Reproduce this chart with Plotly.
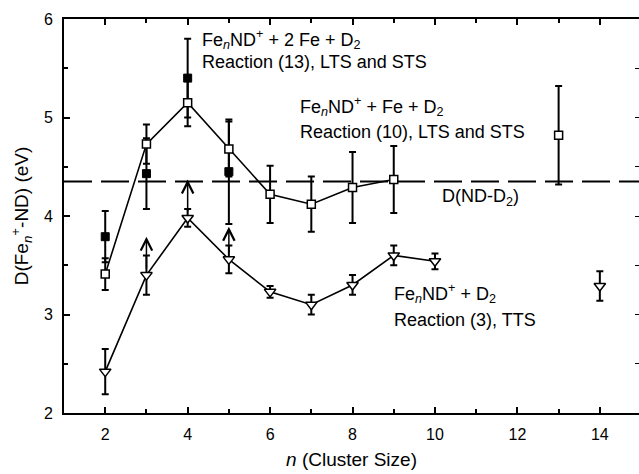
import plotly.graph_objects as go

# ---- data ----
sq_n = [2, 3, 4, 5, 6, 7, 8, 9, 13]
sq_val = [3.41, 4.73, 5.15, 4.68, 4.22, 4.12, 4.29, 4.37, 4.82]
sq_err = [0.16, 0.20, 0.24, 0.28, 0.29, 0.28, 0.36, 0.34, 0.50]
sq_line_n = [2, 3, 4, 5, 6, 7, 8, 9]

fill_n = [2, 3, 4, 5]
fill_val = [3.79, 4.43, 5.40, 4.45]
fill_err = [0.26, 0.36, 0.40, 0.53]

tri_n = [2, 3, 4, 5, 6, 7, 8, 9, 10, 14]
tri_val = [2.42, 3.40, 3.98, 3.56, 3.23, 3.10, 3.30, 3.60, 3.54, 3.29]
tri_err = [0.23, 0.20, 0.09, 0.14, 0.06, 0.10, 0.10, 0.10, 0.08, 0.15]
tri_line_n = [2, 3, 4, 5, 6, 7, 8, 9, 10]

arrow_n = [3, 4, 5]
arrow_tip = [3.79, 4.37, 3.89]

d_nd_d2 = 4.35

x_ticks = [2, 4, 6, 8, 10, 12, 14]
y_ticks = [2, 3, 4, 5, 6]

FONT = "Arial, Liberation Sans, sans-serif"

fig = go.Figure()

sq_line_val = [v for n, v in zip(sq_n, sq_val) if n in sq_line_n]
tri_line_val = [v for n, v in zip(tri_n, tri_val) if n in tri_line_n]

fig.add_trace(go.Scatter(x=sq_line_n, y=sq_line_val, mode="lines",
                         line=dict(color="black", width=1.6), hoverinfo="skip"))
fig.add_trace(go.Scatter(x=tri_line_n, y=tri_line_val, mode="lines",
                         line=dict(color="black", width=1.6), hoverinfo="skip"))

err_style = dict(type="data", visible=True, color="black", thickness=2, width=3.5)

fig.add_trace(go.Scatter(x=fill_n, y=fill_val, mode="markers",
                         error_y=dict(array=fill_err, **err_style),
                         marker=dict(symbol="square", size=8, color="black",
                                     line=dict(color="black", width=1))))
fig.add_trace(go.Scatter(x=sq_n, y=sq_val, mode="markers",
                         error_y=dict(array=sq_err, **err_style),
                         marker=dict(symbol="square", size=8, color="white",
                                     line=dict(color="black", width=1.5))))
fig.add_trace(go.Scatter(x=tri_n, y=tri_val, mode="markers",
                         error_y=dict(array=tri_err, **err_style),
                         marker=dict(symbol="triangle-down", size=10, color="white",
                                     line=dict(color="black", width=1.5))))

# invisible trace to register the right-hand tick axis
fig.add_trace(go.Scatter(x=[], y=[], yaxis="y2", mode="markers", hoverinfo="skip"))

# dashed reference line
fig.add_shape(type="line", xref="paper", x0=0, x1=1, yref="y", y0=d_nd_d2, y1=d_nd_d2,
              line=dict(color="black", width=2, dash="28px,9px"))

# upward arrows
for n, tip in zip(arrow_n, arrow_tip):
    base = tri_val[tri_n.index(n)]
    fig.add_annotation(x=n, y=tip, ax=n, ay=base, xref="x", yref="y",
                       axref="x", ayref="y", text="", showarrow=True,
                       arrowhead=5, arrowsize=1.5, arrowwidth=1.5,
                       arrowcolor="black", startstandoff=5, standoff=0)

tick_font = dict(family=FONT, size=16, color="black")
title_font = dict(family=FONT, size=19, color="black")
ann_font = dict(family=FONT, size=18, color="black")

def label(x, y, text):
    fig.add_annotation(x=x, y=y, xref="x", yref="y", text=text, showarrow=False,
                       xanchor="left", yanchor="middle", font=ann_font)

label(4.30, 5.79, "Fe<sub><i>n</i></sub>ND<sup>+</sup> + 2 Fe + D<sub>2</sub>")
label(4.30, 5.56, "Reaction (13), LTS and STS")
label(6.68, 5.11, "Fe<sub><i>n</i></sub>ND<sup>+</sup> + Fe + D<sub>2</sub>")
label(6.68, 4.85, "Reaction (10), LTS and STS")
label(8.95, 3.21, "Fe<sub><i>n</i></sub>ND<sup>+</sup> + D<sub>2</sub>")
label(8.95, 2.94, "Reaction (3), TTS")
label(10.12, 4.19, "D(ND-D<sub>2</sub>)")

fig.update_layout(
    width=639, height=474,
    margin=dict(l=64, r=0, t=19, b=61),
    paper_bgcolor="white", plot_bgcolor="white",
    showlegend=False,
    font=tick_font,
    xaxis=dict(range=[1, 14.95], tickvals=x_ticks, ticks="inside", ticklen=6,
               tickwidth=1.5, tickcolor="black", showline=True, linewidth=2,
               linecolor="black", mirror="ticks", showgrid=False, zeroline=False,
               minor=dict(dtick=1, tick0=1, ticks="inside", ticklen=4,
                          tickwidth=1.5, tickcolor="black", showgrid=False),
               tickfont=tick_font, ticklabelstandoff=6,
               title=dict(text="<i>n</i> (Cluster Size)", font=title_font, standoff=10)),
    yaxis=dict(range=[2, 6], tickvals=y_ticks, ticks="inside", ticklen=6,
               tickwidth=1.5, tickcolor="black", showline=True, linewidth=2,
               linecolor="black", mirror=False, showgrid=False, zeroline=False,
               minor=dict(dtick=0.5, tick0=2, ticks="inside", ticklen=4,
                          tickwidth=1.5, tickcolor="black", showgrid=False),
               tickfont=tick_font, ticklabelstandoff=6,
               title=dict(text="D(Fe<sub><i>n</i></sub><sup>+</sup>-ND) (eV)",
                          font=title_font, standoff=10)),
    yaxis2=dict(range=[2, 6], overlaying="y", side="right", tickvals=y_ticks,
                ticks="inside", ticklen=4, tickwidth=1.2, tickcolor="black",
                showticklabels=False, showline=False, showgrid=False, zeroline=False,
                minor=dict(dtick=0.5, tick0=2, ticks="inside", ticklen=4,
                           tickwidth=1.2, tickcolor="black", showgrid=False)),
)

fig.write_html("out.html")
